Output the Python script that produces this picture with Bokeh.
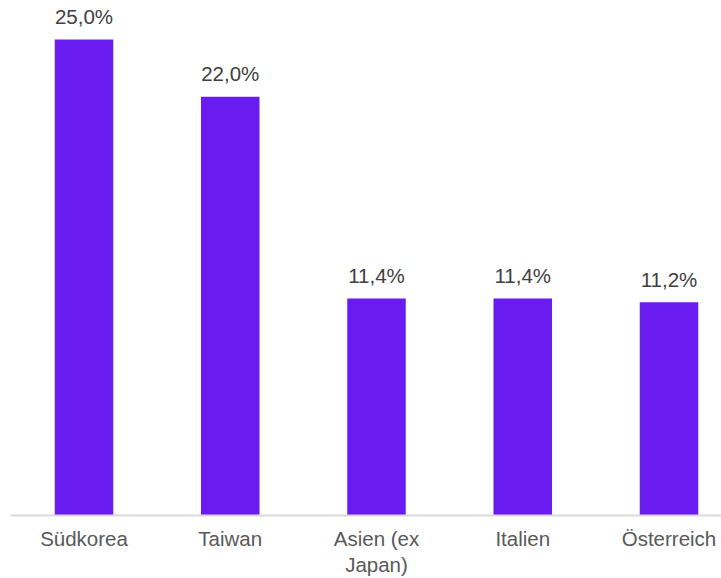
from bokeh.plotting import figure
from bokeh.models import ColumnDataSource, FixedTicker, Range1d
from bokeh.core.properties import value
from bokeh.embed import file_html
from bokeh.resources import INLINE

categories = ["Südkorea", "Taiwan", "Asien (ex\nJapan)", "Italien", "Österreich"]
values = [25.0, 22.0, 11.4, 11.4, 11.2]

xs = list(range(len(categories)))
labels = [f"{v:.1f}%".replace(".", ",") for v in values]
src = ColumnDataSource(dict(x=xs, top=values, label=labels))

p = figure(width=721, height=578, output_backend="svg", toolbar_location=None,
           x_range=Range1d(-0.5026, 4.359), y_range=Range1d(0, 26.63),
           y_axis_location=None, min_border_left=10, min_border_right=0,
           min_border_top=8, min_border_bottom=63)
p.outline_line_color = None
p.background_fill_color = "white"
p.border_fill_color = "white"
p.xgrid.visible = False
p.ygrid.visible = False

p.vbar(x="x", top="top", bottom=0, width=0.40, source=src,
       fill_color="#6A1BEF", line_color=None)

p.text(x="x", y="top", text="label", source=src, text_align="center",
       text_baseline="alphabetic", y_offset=-23,
       text_font=value("Liberation Sans"), text_font_size="20.5px",
       text_color="#404040")

ax = p.xaxis[0]
ax.ticker = FixedTicker(ticks=xs)
ax.major_label_overrides = {i: c for i, c in zip(xs, categories)}
ax.axis_line_color = "#D9D9D9"
ax.axis_line_width = 2
ax.major_tick_line_color = None
ax.minor_tick_line_color = None
ax.major_label_standoff = 5
ax.major_label_text_font = "Liberation Sans"
ax.major_label_text_font_size = "20.5px"
ax.major_label_text_line_height = 1.15
ax.major_label_text_color = "#595959"

open("out.html", "w").write(file_html(p, INLINE))
